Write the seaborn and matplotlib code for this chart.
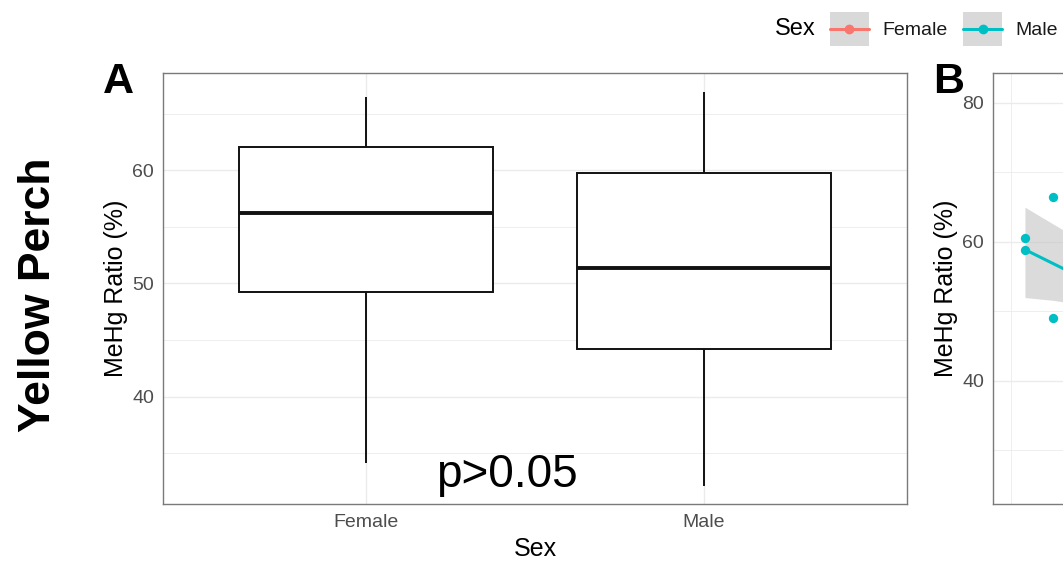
import pandas as pd
import matplotlib.pyplot as plt
import seaborn as sns
from matplotlib.patches import Patch, Rectangle
from matplotlib.lines import Line2D
from matplotlib.legend_handler import HandlerTuple, HandlerPatch, HandlerLine2D

# Panel A: five-number summaries (min, Q1, median, Q3, max)
sexes = ['Female', 'Male']
female_ratio = [34.1, 49.2, 56.2, 62.1, 66.5]
male_ratio = [32.1, 44.2, 51.4, 59.8, 66.9]

# Panel B: the visible slice of the scatter / fit (only males are visible)
b_x = [1, 1, 2, 2]
b_ratio = [60.6, 58.9, 66.5, 49.0]
fit_x = [1, 2, 3]
fit_y = [58.9, 56.9, 54.9]
fit_lo = [52.0, 51.6, 51.0]
fit_hi = [65.0, 62.6, 60.2]

colores = {'Female': '#F8766D', 'Male': '#00BFC4'}
grid_col = '#ebebeb'
border_col = '#7a7a7a'
tick_col = '#4d4d4d'

df = pd.DataFrame({
    'Sex': ['Female'] * len(female_ratio) + ['Male'] * len(male_ratio),
    'ratio': female_ratio + male_ratio,
})
df_b = pd.DataFrame({'x': b_x, 'ratio': b_ratio, 'Sex': 'Male'})

sns.set_style('white')
plt.rcParams['font.family'] = ['Liberation Sans', 'DejaVu Sans']
plt.rcParams['text.color'] = 'black'
plt.rcParams['axes.labelcolor'] = 'black'

fig = plt.figure(figsize=(10.63, 5.63), dpi=100)
ax = fig.add_axes([0.1533, 0.1048, 0.6999, 0.7655])
ax_b = fig.add_axes([0.9341, 0.1048, 0.5, 0.7655])

# --- Panel A: boxplot
sns.boxplot(data=df, x='Sex', y='ratio', order=sexes, color='white', linecolor='#111111',
            linewidth=1.4, width=0.75, showcaps=False, fliersize=0,
            medianprops={'linewidth': 2.8}, ax=ax, zorder=3)
ax.set_xlim(-0.6, 1.6)
ax.set_ylim(30.5, 68.6)
ax.set_yticks([40, 50, 60])
ax.set_yticks([35, 45, 55, 65], minor=True)
ax.grid(which='major', color=grid_col, lw=1.0, zorder=0)
ax.grid(which='minor', axis='y', color=grid_col, lw=0.6, zorder=0)
ax.set_axisbelow(True)
ax.set_xlabel('Sex', fontsize=18, labelpad=4)
ax.set_ylabel('MeHg Ratio (%)', fontsize=18, labelpad=3)
ax.text(0.4624, 0.04, 'p>0.05', transform=ax.transAxes, ha='center', va='baseline',
        fontsize=33)

# --- Panel B: scatter with fitted line and ribbon
ax_b.fill_between(fit_x, fit_lo, fit_hi, color='#c4c4c4', alpha=0.6, lw=0, zorder=2)
sns.lineplot(x=fit_x, y=fit_y, color=colores['Male'], lw=2.2, ax=ax_b, zorder=3)
sns.scatterplot(data=df_b, x='x', y='ratio', color=colores['Male'], s=45, linewidth=0,
                ax=ax_b, zorder=4, legend=False)
ax_b.set_xlim(-0.143, 18.84)
ax_b.set_ylim(22.3, 84.3)
ax_b.set_yticks([40, 60, 80])
ax_b.set_yticks([30, 50, 70], minor=True)
ax_b.set_xticks([])
ax_b.set_xticks([0.5], minor=True)
ax_b.grid(which='major', axis='y', color=grid_col, lw=1.0, zorder=0)
ax_b.grid(which='minor', color=grid_col, lw=0.6, zorder=0)
ax_b.set_axisbelow(True)
ax_b.set_xlabel('')
ax_b.set_ylabel('MeHg Ratio (%)', fontsize=18, labelpad=3)

for a in (ax, ax_b):
    for s in a.spines.values():
        s.set_visible(True)
        s.set_color(border_col)
        s.set_linewidth(1.0)
    a.tick_params(which='major', direction='out', length=4, width=0.9, color='#333333',
                  labelcolor=tick_col, labelsize=14)
    a.tick_params(axis='y', pad=2.5)
    a.tick_params(axis='x', pad=3.5)
    a.tick_params(which='minor', length=0)

# panel letters and row label
fig.text(0.0969, 0.8348, 'A', fontsize=31, fontweight='bold', ha='left', va='baseline')
fig.text(0.8777, 0.8348, 'B', fontsize=31, fontweight='bold', ha='left', va='baseline')
fig.text(0.036, 0.476, 'Yellow Perch', fontsize=32, fontweight='bold', rotation=90,
         ha='center', va='center')

# legend keys: grey box with the line + dot on top, both dropped to the text's middle
KEY_DROP = 0.32


def key_box(legend, orig_handle, xdescent, ydescent, width, height, fontsize):
    mid = (height - ydescent - KEY_DROP * fontsize) / 2
    box_h = 1.75 * fontsize
    return Rectangle((-xdescent, mid - box_h / 2), width, box_h)


class KeyLine(HandlerLine2D):
    def create_artists(self, legend, orig_handle, xdescent, ydescent, width, height,
                       fontsize, trans):
        return super().create_artists(legend, orig_handle, xdescent,
                                      ydescent + KEY_DROP * fontsize, width, height,
                                      fontsize, trans)


handles = [(Patch(facecolor='#d9d9d9', edgecolor='none'),
            Line2D([], [], color=colores[s], lw=2.2, marker='o', markersize=6)) for s in sexes]
fig.text(0.7290, 0.9485, 'Sex', fontsize=17, ha='left', va='center')
fig.legend(handles, sexes,
           handler_map={tuple: HandlerTuple(ndivide=1, pad=0),
                        Patch: HandlerPatch(patch_func=key_box),
                        Line2D: KeyLine()},
           loc='center left', bbox_to_anchor=(0.7808, 0.9485), ncol=2, frameon=False,
           fontsize=14, handlelength=2.0, handleheight=1.75, handletextpad=0.67,
           columnspacing=0.82, borderpad=0, borderaxespad=0, labelcolor='#1a1a1a')

plt.savefig('out.png', dpi=100)
